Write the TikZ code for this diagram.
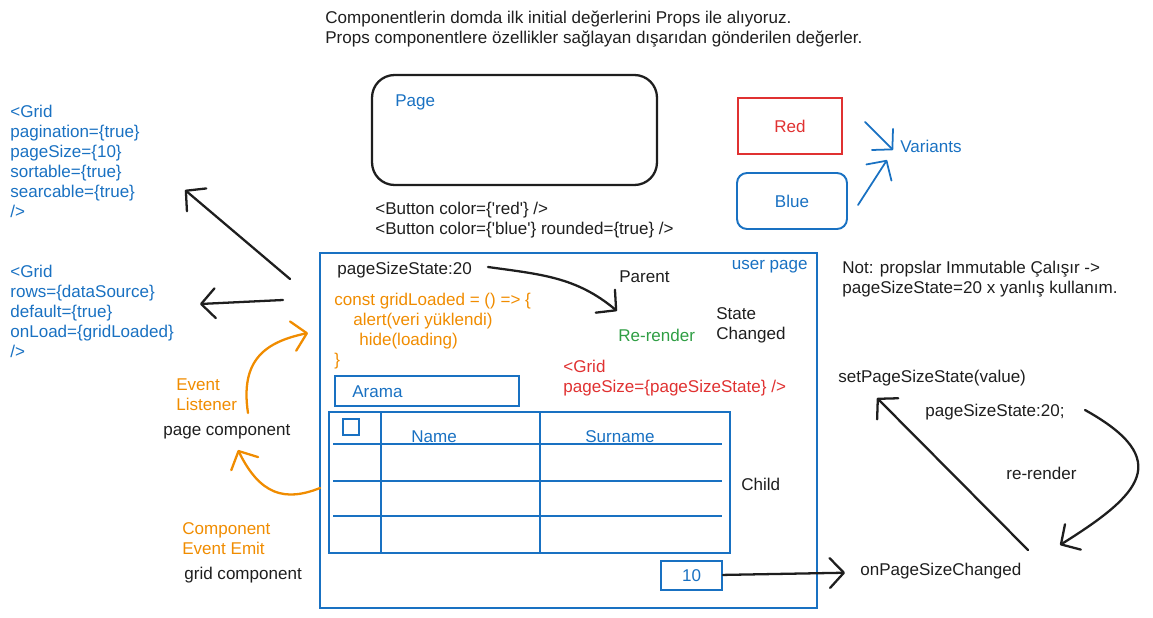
\documentclass[tikz,border=0pt]{standalone}
\usepackage{fontspec}
\setmainfont{Liberation Sans}
\usepackage{tikz}
\usetikzlibrary{arrows.meta,positioning}
\definecolor{sketchBlue}{HTML}{1971C2}
\definecolor{sketchRed}{HTML}{E03131}
\definecolor{sketchOrange}{HTML}{F08C00}
\definecolor{sketchGreen}{HTML}{2F9E44}
\definecolor{sketchInk}{HTML}{1E1E1E}
\tikzset{
  every node/.style={
    font=\fontsize{9.7}{11.4}\selectfont,
    text=sketchInk
  },
  note/.style={
    inner sep=0pt,
    align=left,
    anchor=west
  },
  code/.style={
    note,
    text=sketchBlue
  },
  frame/.style={
    draw=sketchBlue,
    line width=1.1pt,
    inner sep=0pt
  },
  sketch arrow/.style={
    draw=sketchInk,
    line width=1.3pt,
    line cap=round,
    -{Straight Barb[length=8pt,width=17pt,round]}
  },
  emit arrow/.style={
    sketch arrow,
    draw=sketchOrange
  },
  variant arrow/.style={
    sketch arrow,
    draw=sketchBlue,
    line width=1pt
  }
}
\begin{document}
\begin{tikzpicture}[x=0.02cm,y=-0.02cm]
  \useasboundingbox (0,0) rectangle (1153,618);

  \node [note, anchor=north west] (intro) at (325,11) {
    Componentlerin domda ilk initial değerlerini Props ile alıyoruz.\\
    Props componentlere özellikler sağlayan dışarıdan gönderilen değerler.
  };

  % page and buttons
  \node [draw=sketchInk, line width=1.3pt, rounded corners=0.45cm,
    minimum width=5.7cm, minimum height=2.2cm] (page) at (514.5,130) {};
  \node [code] (pageLbl) at (395,102) {Page};
  \node [note, anchor=north west] (buttons) at (375,202) {
    <Button color=\{\textquotesingle red\textquotesingle\} />\\
    <Button color=\{\textquotesingle blue\textquotesingle\} rounded=\{true\} />
  };
  \node [draw=sketchRed, line width=1.1pt, minimum width=2.08cm,
    minimum height=1.12cm, text=sketchRed] (red) at (790,126) {Red};
  \node [frame, rounded corners=0.2cm, minimum width=2.2cm,
    minimum height=1.12cm, text=sketchBlue] (blue) at (792,201) {Blue};
  \node [code] (variants) at (900,146) {Variants};
  \coordinate (redOut) at (865,122);
  \coordinate (redIn) at (893,150);
  \coordinate (blueOut) at (858,205);
  \coordinate (blueIn) at (887,160);
  \draw [variant arrow] (redOut) -- (redIn);
  \draw [variant arrow] (blueOut) -- (blueIn);

  % props on the left
  \node [code, anchor=north west] (gridA) at (10,105) {
    <Grid\\pagination=\{true\}\\pageSize=\{10\}\\
    sortable=\{true\}\\searcable=\{true\}\\/>
  };
  \node [code, anchor=north west] (gridB) at (10,265) {
    <Grid\\rows=\{dataSource\}\\default=\{true\}\\
    onLoad=\{gridLoaded\}\\/>
  };

  % user page
  \node [frame, minimum width=9.94cm, minimum height=7.1cm] (user) at (568.5,430.5) {};
  \node [code, anchor=east] (userLbl) at (808,267) {user page};
  \node [note] (pss) at (337,270) {pageSizeState:20};
  \node [note] (parent) at (619,277) {Parent};
  \node [note, anchor=north west, text=sketchOrange] (loaded) at (334,293) {
    const gridLoaded = () => \{\\
    \hspace*{0.38cm}alert(veri yüklendi)\\
    \hspace*{0.5cm}hide(loading)\\
    \}
  };
  \node [note, text=sketchGreen] (rerender) at (618,335) {Re-render};
  \node [note, anchor=north west] (state) at (716,307) {State\\Changed};
  \node [note, anchor=north west, text=sketchRed] (gridC) at (563,360) {
    <Grid\\pageSize=\{pageSizeState\} />
  };
  \node [frame, minimum width=3.68cm, minimum height=0.6cm] (arama) at (427,391) {};
  \node [code] (aramaLbl) at (352,392) {Arama};
  \node [frame, minimum width=8.02cm, minimum height=2.82cm] (tbl) at (529.5,482.5) {};
  \foreach \x in {381,540}
    \draw [sketchBlue, line width=1.1pt] (\x,412) -- (\x,553);
  \foreach \y in {444,481,516}
    \draw [sketchBlue, line width=1.1pt] (333,\y) -- (722,\y);
  \node [frame, minimum size=0.32cm] (check) at (351,427) {};
  \node [code] (nameCol) at (411,437) {Name};
  \node [code] (surnameCol) at (585,437) {Surname};
  \node [note] (child) at (741,484) {Child};
  \node [frame, minimum width=1.22cm, minimum height=0.58cm,
    text=sketchBlue] (ten) at (691.5,575.5) {10};

  % state cycle
  \node [note, anchor=north west] (notice) at (842,261) {
    Not: propslar Immutable Çalışır ->\\
    pageSizeState=20 x yanlış kullanım.
  };
  \node [note] (setPss) at (838,378) {setPageSizeState(value)};
  \node [note] (pssB) at (925,412) {pageSizeState:20;};
  \node [note] (rerenderB) at (1006,473) {re-render};
  \node [note] (onPsc) at (860,571) {onPageSizeChanged};

  % components
  \node [note, anchor=north west, text=sketchOrange] (listener) at (176,378) {Event\\Listener};
  \node [note] (pageComp) at (163,432) {page component};
  \node [note, anchor=north west, text=sketchOrange] (emit) at (182,522) {Component\\Event Emit};
  \node [note] (gridComp) at (184,575) {grid component};

  \coordinate (propsOut) at (290,279);
  \coordinate (propsIn) at (185,190);
  \coordinate (loadOut) at (283,300);
  \coordinate (loadIn) at (200,304);
  \coordinate (pssOut) at (488,267);
  \coordinate (pssIn) at (617,311);
  \coordinate (listenOut) at (248,413);
  \coordinate (listenIn) at (308,333);
  \coordinate (emitOut) at (320,488);
  \coordinate (emitIn) at (238,450);
  \coordinate (cycleOut) at (1028,550);
  \coordinate (cycleIn) at (877,398);
  \coordinate (loopOut) at (1085,410);
  \coordinate (loopIn) at (1060,545);

  \draw [sketch arrow] (propsOut) -- (propsIn);
  \draw [sketch arrow] (loadOut) -- (loadIn);
  \draw [sketch arrow] (pssOut) to[out=-8,in=140] (pssIn);
  \draw [emit arrow] (listenOut) .. controls (240,360) and (265,342) .. (listenIn);
  \draw [emit arrow] (emitOut) .. controls (285,502) and (260,495) .. (emitIn);
  \draw [sketch arrow, shorten >=0.3cm] (ten) -- (onPsc);
  \draw [sketch arrow] (cycleOut) -- (cycleIn);
  \draw [sketch arrow] (loopOut) .. controls (1175,460) and (1140,495) .. (loopIn);
\end{tikzpicture}
\end{document}
